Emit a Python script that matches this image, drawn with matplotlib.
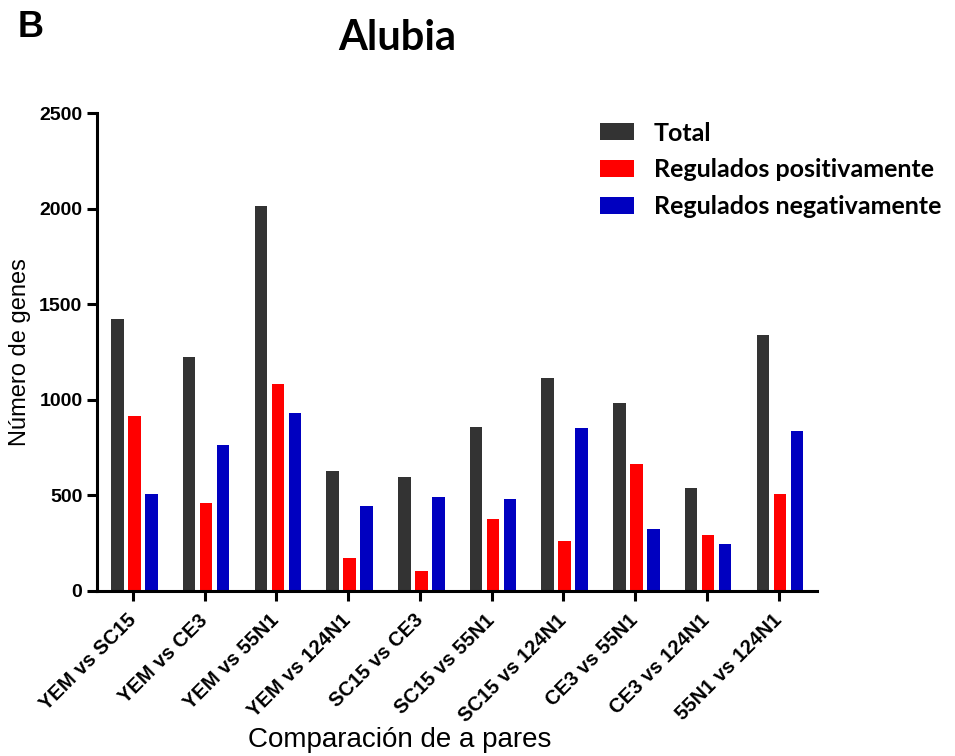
import matplotlib
matplotlib.use("Agg")
import matplotlib.pyplot as plt
import numpy as np

# Pairwise comparisons and counts of differentially expressed genes
comparisons = ["YEM vs SC15", "YEM vs CE3", "YEM vs 55N1", "YEM vs 124N1",
               "SC15 vs CE3", "SC15 vs 55N1", "SC15 vs 124N1", "CE3 vs 55N1",
               "CE3 vs 124N1", "55N1 vs 124N1"]
total = [1420, 1226, 2015, 629, 595, 857, 1115, 984, 536, 1338]
up_regulated = [916, 459, 1085, 175, 106, 378, 262, 663, 292, 505]
down_regulated = [505, 766, 932, 447, 493, 479, 855, 323, 248, 839]
series_labels = ["Total", "Regulados positivamente", "Regulados negativamente"]
yticks = [0, 500, 1000, 1500, 2000, 2500]

colors = ["#333333", "#ff0000", "#0000c0"]

fig = plt.figure(figsize=(9.55, 7.56), dpi=100)
ax = fig.add_axes([0.1016, 0.2183, 0.7534, 0.6322])

x = np.arange(len(comparisons))
width = 0.175
offset = 0.237
handles = []
for i, (vals, col) in enumerate(zip([total, up_regulated, down_regulated], colors)):
    h = ax.bar(x + (i - 1) * offset + 0.02, vals, width=width, color=col,
               edgecolor="none", label=series_labels[i])
    handles.append(h)

ax.set_xlim(-0.5, 9.53)
ax.set_ylim(0, 2500)
ax.set_yticks(yticks)
ax.set_yticklabels([str(v) for v in yticks], fontsize=14, fontweight="bold",
                   family="Liberation Sans")
ax.set_xticks(x)
ax.set_xticklabels(comparisons, rotation=45, ha="right", va="center",
                   rotation_mode="anchor",
                   fontsize=14.5, fontweight="bold", family="Liberation Sans")

for side in ["top", "right"]:
    ax.spines[side].set_visible(False)
for side in ["left", "bottom"]:
    ax.spines[side].set_linewidth(2.2)
ax.tick_params(axis="both", width=2.2, length=7, direction="out")
ax.tick_params(axis="x", pad=12)

ax.set_ylabel("Número de genes", fontsize=17, family="Liberation Sans", labelpad=6)

fig.text(0.418, 0.021, "Comparación de a pares", fontsize=20,
         family="Liberation Sans", ha="center", va="center")
fig.text(0.416, 0.95, "Alubia", fontsize=30, fontweight="bold", family="Lato",
         ha="center", va="center")
fig.text(0.0325, 0.964, "B", fontsize=26, fontweight="bold", family="Liberation Sans",
         ha="center", va="center")

fig.legend(handles=handles, labels=series_labels, loc="upper left",
           bbox_to_anchor=(0.605, 0.869), frameon=False,
           prop={"family": "Lato", "weight": "bold", "size": 18},
           handlelength=1.35, handleheight=0.65, handletextpad=0.8, labelspacing=0.55)

fig.savefig("out.png", dpi=100)
